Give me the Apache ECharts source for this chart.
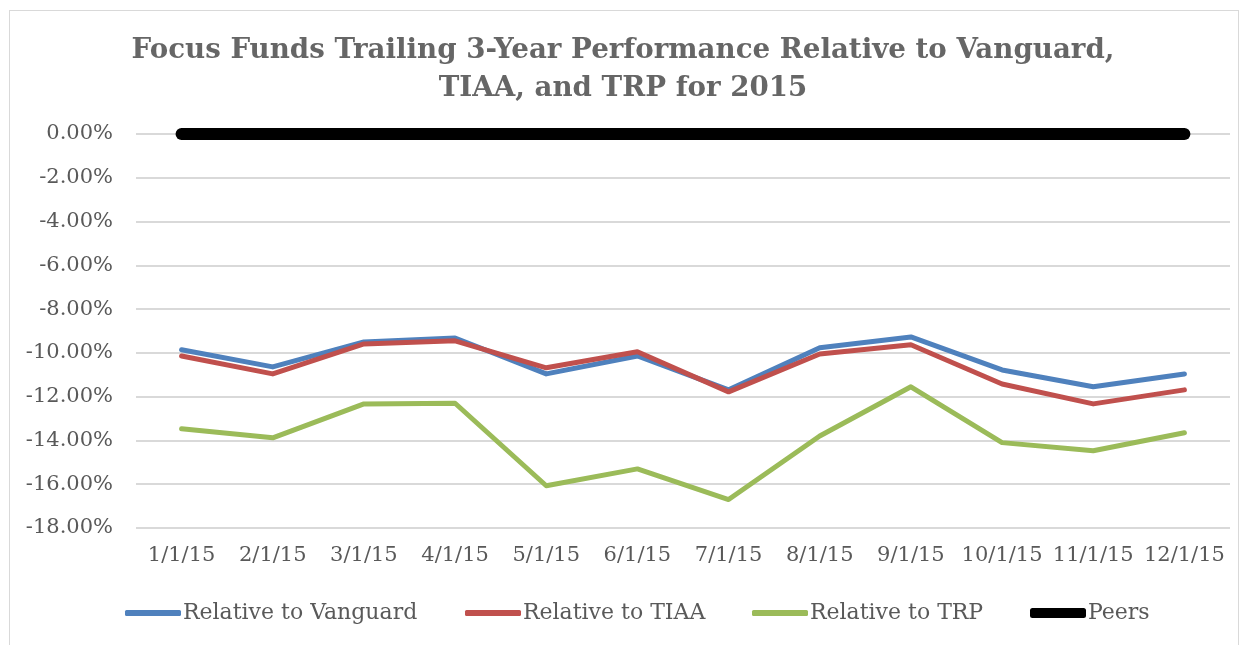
<!DOCTYPE html>
<html>
<head>
<meta charset="utf-8">
<script src="https://cdn.jsdelivr.net/npm/echarts@6/dist/echarts.min.js"></script>
<style>
  html, body { margin: 0; padding: 0; background: #fff; }
  #frame { position: absolute; left: 9px; top: 10px; width: 1230px; height: 640px; border: 1px solid #d9d9d9; box-sizing: border-box; }
  #main { position: absolute; left: 0; top: 0; width: 1246px; height: 645px; }
</style>
</head>
<body>
<div id="frame"></div>
<div id="main"></div>
<script>
// months on the category axis
const months = ['1/1/15', '2/1/15', '3/1/15', '4/1/15', '5/1/15', '6/1/15',
  '7/1/15', '8/1/15', '9/1/15', '10/1/15', '11/1/15', '12/1/15'];
// values in percent
const vsVanguard = [-9.86, -10.64, -9.50, -9.32, -10.96, -10.14, -11.69, -9.77, -9.27, -10.78, -11.55, -10.96];
const vsTIAA = [-10.14, -10.96, -9.59, -9.45, -10.68, -9.95, -11.78, -10.05, -9.63, -11.42, -12.33, -11.69];
const vsTRP = [-13.47, -13.88, -12.33, -12.30, -16.07, -15.30, -16.70, -13.80, -11.55, -14.10, -14.47, -13.65];
const peers = [0, 0, 0, 0, 0, 0, 0, 0, 0, 0, 0, 0];
const seriesNames = ['Relative to Vanguard', 'Relative to TIAA', 'Relative to TRP', 'Peers'];

const font = 'DejaVu Serif';
const grey = '#595959';

function lineSeries(name, data, color, width) {
  return {
    name: name,
    type: 'line',
    data: data,
    symbol: 'none',
    showSymbol: false,
    animation: false,
    lineStyle: { color: color, width: width, cap: 'round', join: 'round' },
    itemStyle: { color: color }
  };
}

function legendAt(name, left, thick) {
  return {
    data: [{ name: name, icon: 'roundRect' }],
    left: left,
    top: 602,
    padding: 0,
    itemWidth: 56,
    itemHeight: thick,
    itemGap: 0,
    textStyle: { fontFamily: font, fontSize: 22, color: grey, padding: [0, 0, 0, -3] }
  };
}

const chart = echarts.init(document.getElementById('main'));
chart.setOption({
  animation: false,
  title: {
    text: 'Focus Funds Trailing 3-Year Performance Relative to Vanguard,\nTIAA, and TRP for 2015',
    left: 'center',
    top: 27,
    textStyle: { fontFamily: font, fontWeight: 'bold', fontSize: 27.7, color: '#666666', lineHeight: 38 }
  },
  legend: [
    legendAt(seriesNames[0], 125, 6),
    legendAt(seriesNames[1], 465, 6),
    legendAt(seriesNames[2], 752, 6),
    legendAt(seriesNames[3], 1030, 10)
  ],
  grid: { left: 136, right: 16, top: 134, bottom: 117, containLabel: false },
  xAxis: {
    type: 'category',
    data: months,
    boundaryGap: true,
    axisLine: { show: false },
    axisTick: { show: false },
    axisLabel: { interval: 0, fontFamily: font, fontSize: 21, color: grey, margin: 17 }
  },
  yAxis: {
    type: 'value',
    min: -18,
    max: 0,
    interval: 2,
    axisLine: { show: false },
    axisTick: { show: false },
    splitLine: { lineStyle: { color: '#d9d9d9', width: 2 } },
    axisLabel: {
      fontFamily: font, fontSize: 21, color: grey, margin: 23,
      formatter: v => v.toFixed(2) + '%'
    }
  },
  series: [
    lineSeries(seriesNames[0], vsVanguard, '#4F81BD', 5),
    lineSeries(seriesNames[1], vsTIAA, '#C0504D', 5),
    lineSeries(seriesNames[2], vsTRP, '#9BBB59', 5),
    lineSeries(seriesNames[3], peers, '#000000', 12)
  ]
});
</script>
</body>
</html>
